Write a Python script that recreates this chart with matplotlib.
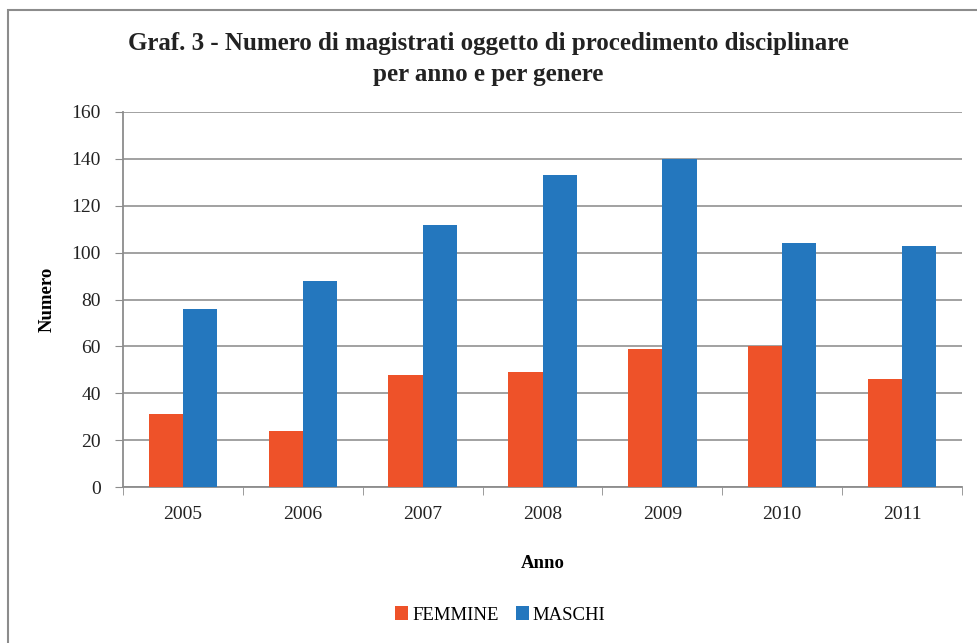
import numpy as np
import matplotlib.pyplot as plt
from matplotlib.patches import Rectangle

anni = ["2005", "2006", "2007", "2008", "2009", "2010", "2011"]
femmine = [31, 24, 48, 49, 59, 60, 46]
maschi = [76, 88, 112, 133, 140, 104, 103]

plt.rcParams['font.family'] = ['Liberation Serif', 'DejaVu Serif']

fig = plt.figure(figsize=(9.77, 6.43), dpi=100)
ax = fig.add_axes([123 / 977, 1 - 487 / 643, (962 - 123) / 977, (487 - 112) / 643])

# outer frame of the chart area
fig.patches.append(Rectangle((8 / 977, -0.01), 1.2, 1 - 10 / 643 + 0.01,
                             transform=fig.transFigure, fill=False,
                             edgecolor='#8c8c8c', linewidth=1.5))

x = np.arange(len(anni))
w = 0.285
ax.bar(x - w / 2, femmine, w, color='#ee5229', label='FEMMINE', zorder=3)
ax.bar(x + w / 2, maschi, w, color='#2477be', label='MASCHI', zorder=3)

ax.set_xlim(-0.5, len(anni) - 0.5)
ax.set_ylim(0, 160)
ax.set_yticks(range(0, 161, 20))
ax.set_xticks(x)
ax.set_xticklabels(anni)
ax.set_xticks(np.arange(-0.5, len(anni)), minor=True)
ax.tick_params(axis='x', which='major', length=0, pad=14, labelsize=14, colors='#222222')
ax.tick_params(axis='x', which='minor', length=6, color='#8c8c8c')
ax.tick_params(axis='y', length=6, color='#8c8c8c', pad=10, labelsize=14, labelcolor='#222222')

ax.yaxis.grid(True, color='#9a9a9a', linewidth=1.3, zorder=0)
ax.set_axisbelow(True)
for s in ['top', 'right']:
    ax.spines[s].set_visible(False)
ax.spines['left'].set_color('#8c8c8c')
ax.spines['bottom'].set_color('#8c8c8c')
ax.spines['left'].set_linewidth(1.3)
ax.spines['bottom'].set_linewidth(1.3)

ax.set_ylabel("Numero", fontsize=13.5, fontweight='bold')
ax.yaxis.set_label_coords(-0.08, 0.5)
ax.set_xlabel("Anno", fontsize=13.5, fontweight='bold')
ax.xaxis.set_label_coords(0.5, -0.18)

fig.text(0.5, 1 - 59 / 643, "Graf. 3 - Numero di magistrati oggetto di procedimento disciplinare\nper anno e per genere",
         ha='center', va='center', fontsize=18, fontweight='bold', linespacing=1.4, color='#222222')

fig.legend(loc='center', bbox_to_anchor=(0.512, 1 - 615 / 643), ncol=2, frameon=False,
           fontsize=13.5, handlelength=0.7, handleheight=0.7, handletextpad=0.2,
           columnspacing=0.9)

fig.savefig("out.png", dpi=100)
